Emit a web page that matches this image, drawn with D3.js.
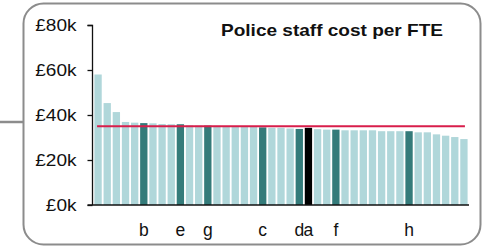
<!DOCTYPE html>
<html>
<head>
<meta charset="utf-8">
<script src="https://cdn.jsdelivr.net/npm/d3@7"></script>
<style>
  html, body { margin: 0; padding: 0; background: #fff; }
  svg { display: block; font-family: "Liberation Sans", Arial, sans-serif; }
</style>
</head>
<body>
<svg id="chart" width="483" height="246"></svg>
<script>
// ---- data ----
const title = "Police staff cost per FTE";
const values = [58.0, 45.3, 41.3, 36.9, 36.6, 36.4, 36.3, 36.0, 35.9, 35.9,
                35.4, 35.3, 35.3, 35.2, 35.1, 35.0, 34.9, 34.8, 34.5, 34.3,
                34.3, 34.0, 33.8, 34.3, 33.7, 33.5, 33.5, 33.2, 33.2, 33.2,
                33.2, 32.8, 32.8, 32.8, 32.8, 32.3, 32.3, 31.4, 30.8, 30.2, 29.3];
const categories = values.map((d, i) => i);
const highlightLabels = {5: "b", 9: "e", 12: "g", 18: "c", 22: "d", 23: "a", 26: "f", 34: "h"};
const blackIndex = 23;
const average = 35.0;
const yTicks = [0, 20, 40, 60, 80];

// ---- drawing ----
const svg = d3.select("#chart");

// horizontal stretch helper (reference text is slightly widened)
function stretch(sel, factor) {
  sel.each(function () {
    const w = this.getComputedTextLength();
    d3.select(this).attr("textLength", w * factor).attr("lengthAdjust", "spacingAndGlyphs");
  });
}

// connector line and rounded panel
svg.append("line")
  .attr("x1", 0).attr("x2", 24).attr("y1", 122).attr("y2", 122)
  .attr("stroke", "#8c8c8c").attr("stroke-width", 2.5);
svg.append("rect")
  .attr("x", 23.5).attr("y", 3.5).attr("width", 457).attr("height", 241)
  .attr("rx", 20).attr("ry", 20)
  .attr("fill", "#fff").attr("stroke", "#8c8c8c").attr("stroke-width", 2);

const x = d3.scaleBand().domain(categories).range([93.5, 468.5])
  .paddingInner(0.2).paddingOuter(0.1);
const y = d3.scaleLinear().domain([0, 80]).range([205, 25]);

// bars
svg.append("g").selectAll("rect").data(values).join("rect")
  .attr("x", (d, i) => x(i))
  .attr("width", x.bandwidth())
  .attr("y", d => y(d))
  .attr("height", d => y(0) - y(d))
  .attr("fill", (d, i) => i === blackIndex ? "#000" : (highlightLabels[i] ? "#347b7a" : "#b0d7da"));

// average line
svg.append("line")
  .attr("x1", x(0) + x.bandwidth() / 2 - 1)
  .attr("x2", x(values.length - 1) + x.bandwidth() / 2 + 1)
  .attr("y1", y(average)).attr("y2", y(average))
  .attr("stroke", "#d81e4b").attr("stroke-width", 2);

// y axis
const yAxis = d3.axisLeft(y).tickValues(yTicks).tickSize(5).tickPadding(11)
  .tickFormat(d => "£" + d + "k");
const gy = svg.append("g").attr("transform", "translate(92.5,0)").call(yAxis);
gy.select(".domain").attr("d", "M-5,25.5H0V205").attr("stroke", "#111").attr("stroke-width", 1.3);
gy.selectAll(".tick line").attr("stroke", "#111").attr("stroke-width", 1.3);
const tickTexts = gy.selectAll(".tick text").attr("font-size", 17).attr("fill", "#111")
  .attr("font-family", "Liberation Sans, Arial, sans-serif");
stretch(tickTexts, 1.12);

// x baseline
svg.append("line")
  .attr("x1", 87.5).attr("x2", 469).attr("y1", 205).attr("y2", 205)
  .attr("stroke", "#111").attr("stroke-width", 1.3);

// category labels
const labelIdx = Object.keys(highlightLabels).map(Number);
svg.append("g").selectAll("text").data(labelIdx).join("text")
  .attr("x", i => x(i) + x.bandwidth() / 2)
  .attr("y", 236)
  .attr("text-anchor", "middle")
  .attr("font-size", 17.5)
  .attr("fill", "#111")
  .text(i => highlightLabels[i]);

// title
const t = svg.append("text")
  .attr("x", 443).attr("y", 36)
  .attr("text-anchor", "end")
  .attr("font-size", 17)
  .attr("font-weight", "bold")
  .attr("fill", "#111")
  .text(title);
t.attr("textLength", 222).attr("lengthAdjust", "spacingAndGlyphs");
</script>
</body>
</html>
